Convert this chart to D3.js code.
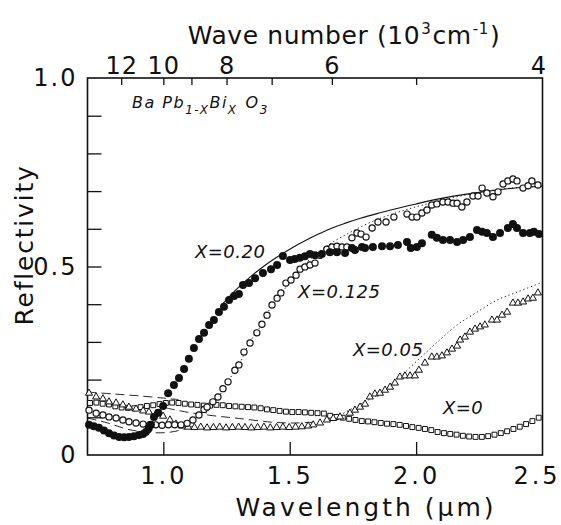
<!DOCTYPE html>
<html>
<head>
<meta charset="utf-8">
<script src="https://cdn.jsdelivr.net/npm/d3@7"></script>
<style>
  html, body { margin: 0; padding: 0; background: #fff; }
  svg { display: block; }
  .lbl { font-family: "DejaVu Sans", sans-serif; fill: #111; }
  .ital { font-family: "DejaVu Sans", sans-serif; font-style: oblique; fill: #111; }
</style>
</head>
<body>
<svg id="chart" width="561" height="525"></svg>
<script>
// Reflectivity of BaPb(1-x)Bi(x)O3 versus wavelength (µm), four compositions.

// X = 0.20 (filled circles): [wavelength µm, reflectivity]
const seriesX020 = [
  [0.706,0.080],[0.725,0.076],[0.745,0.072],[0.765,0.065],[0.785,0.058],[0.805,0.052],
  [0.825,0.048],[0.845,0.047],[0.864,0.048],[0.884,0.050],[0.904,0.053],[0.920,0.056],
  [0.931,0.061],[0.942,0.070],[0.951,0.080],[0.963,0.101],[0.980,0.112],[0.999,0.130],
  [1.019,0.164],[1.042,0.186],[1.062,0.204],[1.082,0.228],[1.101,0.255],[1.121,0.284],
  [1.141,0.308],[1.161,0.324],[1.181,0.345],[1.200,0.358],[1.220,0.379],[1.240,0.393],
  [1.260,0.411],[1.280,0.422],[1.299,0.427],[1.315,0.451],[1.339,0.456],[1.363,0.469],
  [1.394,0.483],[1.426,0.493],[1.450,0.504],[1.473,0.528],[1.501,0.517],[1.520,0.520],
  [1.540,0.523],[1.560,0.527],[1.580,0.533],[1.600,0.530],[1.627,0.533],[1.659,0.538],
  [1.687,0.538],[1.719,0.536],[1.746,0.549],[1.758,0.544],[1.786,0.552],[1.798,0.549],
  [1.829,0.552],[1.865,0.554],[1.897,0.554],[1.928,0.557],[1.964,0.565],[1.979,0.549],
  [2.003,0.552],[2.023,0.562],[2.062,0.584],[2.082,0.576],[2.106,0.570],[2.134,0.570],
  [2.162,0.565],[2.186,0.570],[2.213,0.578],[2.241,0.597],[2.261,0.592],[2.280,0.589],
  [2.304,0.578],[2.332,0.589],[2.363,0.602],[2.383,0.613],[2.399,0.602],[2.423,0.589],
  [2.450,0.589],[2.466,0.592],[2.486,0.586]
];

// X = 0.125 (open circles)
const seriesX0125 = [
  [0.706,0.119],[0.734,0.111],[0.761,0.106],[0.785,0.101],[0.813,0.098],[0.840,0.093],
  [0.864,0.088],[0.892,0.085],[0.920,0.082],[0.945,0.080],[0.970,0.080],[0.995,0.079],
  [1.020,0.080],[1.045,0.080],[1.070,0.080],[1.094,0.084],[1.117,0.093],[1.141,0.106],
  [1.161,0.121],[1.173,0.127],[1.196,0.141],[1.216,0.154],[1.236,0.176],[1.256,0.194],
  [1.283,0.225],[1.299,0.239],[1.319,0.273],[1.343,0.297],[1.370,0.324],[1.390,0.347],
  [1.410,0.371],[1.430,0.398],[1.450,0.416],[1.465,0.430],[1.485,0.456],[1.505,0.464],
  [1.525,0.477],[1.541,0.493],[1.560,0.499],[1.580,0.504],[1.600,0.509],[1.620,0.530],
  [1.647,0.546],[1.667,0.552],[1.687,0.554],[1.707,0.552],[1.726,0.552],[1.746,0.576],
  [1.766,0.589],[1.782,0.586],[1.802,0.578],[1.826,0.602],[1.849,0.618],[1.881,0.618],
  [1.912,0.631],[1.964,0.639],[1.984,0.631],[2.003,0.631],[2.023,0.642],[2.043,0.650],
  [2.062,0.663],[2.082,0.666],[2.106,0.671],[2.126,0.671],[2.146,0.668],[2.162,0.668],
  [2.181,0.658],[2.201,0.671],[2.225,0.687],[2.245,0.687],[2.261,0.708],[2.280,0.695],
  [2.304,0.685],[2.324,0.698],[2.344,0.719],[2.363,0.727],[2.383,0.732],[2.399,0.727],
  [2.423,0.708],[2.443,0.714],[2.458,0.727],[2.482,0.716]
];

// X = 0.05 (open triangles)
const seriesX005 = [
  [0.706,0.164],[0.734,0.154],[0.761,0.149],[0.785,0.141],[0.813,0.138],[0.840,0.133],
  [0.864,0.127],[0.892,0.122],[0.920,0.117],[0.943,0.114],[0.971,0.109],[0.999,0.103],
  [1.026,0.093],[1.050,0.082],[1.074,0.077],[1.098,0.074],[1.123,0.073],[1.148,0.074],
  [1.173,0.072],[1.198,0.073],[1.223,0.074],[1.248,0.072],[1.273,0.073],[1.298,0.074],
  [1.323,0.073],[1.348,0.072],[1.373,0.073],[1.398,0.074],[1.423,0.072],[1.448,0.073],
  [1.473,0.074],[1.498,0.073],[1.523,0.074],[1.548,0.075],[1.573,0.077],[1.593,0.080],
  [1.620,0.085],[1.647,0.093],[1.672,0.097],[1.699,0.101],[1.738,0.111],[1.758,0.119],
  [1.778,0.127],[1.798,0.135],[1.817,0.154],[1.837,0.162],[1.857,0.164],[1.877,0.172],
  [1.897,0.180],[1.916,0.191],[1.936,0.207],[1.956,0.210],[1.976,0.210],[1.995,0.210],
  [2.011,0.225],[2.035,0.244],[2.062,0.260],[2.082,0.260],[2.102,0.263],[2.122,0.271],
  [2.142,0.281],[2.162,0.289],[2.174,0.305],[2.193,0.313],[2.213,0.326],[2.233,0.334],
  [2.253,0.340],[2.272,0.345],[2.300,0.358],[2.320,0.358],[2.340,0.371],[2.360,0.379],
  [2.383,0.403],[2.403,0.403],[2.423,0.406],[2.443,0.414],[2.462,0.416],[2.482,0.430]
];

// X = 0 (open squares)
const seriesX0 = [
  [0.710,0.138],[0.735,0.139],[0.760,0.136],[0.785,0.134],[0.810,0.129],[0.835,0.126],
  [0.860,0.125],[0.885,0.124],[0.910,0.127],[0.935,0.130],[0.960,0.132],[0.985,0.135],
  [1.010,0.138],[1.035,0.139],[1.060,0.138],[1.085,0.136],[1.110,0.134],[1.135,0.133],
  [1.160,0.131],[1.185,0.131],[1.210,0.133],[1.235,0.132],[1.260,0.130],[1.285,0.129],
  [1.310,0.128],[1.335,0.127],[1.360,0.126],[1.385,0.124],[1.410,0.121],[1.435,0.119],
  [1.460,0.117],[1.485,0.115],[1.510,0.114],[1.535,0.114],[1.560,0.113],[1.585,0.112],
  [1.610,0.111],[1.635,0.110],[1.660,0.104],[1.685,0.101],[1.710,0.099],[1.735,0.096],
  [1.760,0.093],[1.785,0.090],[1.810,0.089],[1.835,0.087],[1.860,0.085],[1.885,0.083],
  [1.910,0.082],[1.935,0.080],[1.960,0.077],[1.985,0.074],[2.010,0.072],[2.035,0.069],
  [2.060,0.066],[2.085,0.061],[2.110,0.058],[2.135,0.056],[2.160,0.054],[2.185,0.051],
  [2.210,0.049],[2.235,0.048],[2.260,0.048],[2.285,0.050],[2.310,0.054],[2.335,0.058],
  [2.360,0.063],[2.385,0.069],[2.410,0.075],[2.435,0.082],[2.460,0.090],[2.485,0.099]
];

// Model curves
const fitX020 = [
  [1.237,0.403],[1.290,0.440],[1.343,0.472],[1.400,0.502],[1.450,0.525],[1.510,0.550],
  [1.568,0.571],[1.620,0.588],[1.670,0.603],[1.720,0.615],[1.780,0.628],[1.850,0.641],
  [1.920,0.653],[2.000,0.666],[2.080,0.678],[2.160,0.688],[2.240,0.696],[2.320,0.703],
  [2.400,0.709],[2.500,0.713]
];
const fitX0125 = [
  [1.170,0.110],[1.220,0.155],[1.260,0.200],[1.300,0.240],[1.340,0.297],[1.390,0.347],
  [1.430,0.398],[1.470,0.430],[1.500,0.462],[1.541,0.495],[1.600,0.530],[1.659,0.560],
  [1.738,0.590],[1.829,0.620],[1.924,0.643],[2.003,0.659],[2.094,0.674],[2.185,0.688],
  [2.320,0.704],[2.420,0.710],[2.500,0.713]
];
const fitX005 = [
  [1.699,0.106],[1.780,0.135],[1.857,0.164],[1.940,0.210],[2.015,0.257],[2.090,0.303],
  [2.162,0.345],[2.241,0.379],[2.320,0.411],[2.399,0.432],[2.490,0.456],[2.500,0.459]
];
const fitLowA = [[0.700,0.167],[0.800,0.162],[0.900,0.157],[1.000,0.151],[1.060,0.147]];
const fitLowB = [[1.010,0.125],[1.100,0.113],[1.200,0.104],[1.300,0.097],[1.430,0.087],[1.520,0.085],[1.620,0.088]];
const fitLowC = [[0.700,0.098],[0.780,0.085],[0.860,0.068],[0.940,0.060],[1.020,0.060],[1.090,0.070],[1.130,0.080]];

// Axis ticks
const yTicks = [0,0.1,0.2,0.3,0.4,0.5,0.6,0.7,0.8,0.9,1.0];
const yTickLabels = {0: "0", 0.5: "0.5", 1: "1.0"};
const xTicks = [1.0, 1.5, 2.0, 2.5];
const waveNumbers = [12, 10, 9, 8, 7, 6, 5, 4];
const waveNumberLabels = [12, 10, 8, 6, 4];

// Curve labels (anchored at the start of the text baseline)
const curveLabels = [
  {text: "X=0.20", x: 1.125, y: 0.522},
  {text: "X=0.125", x: 1.533, y: 0.416},
  {text: "X=0.05", x: 1.750, y: 0.263},
  {text: "X=0", x: 2.106, y: 0.109}
];

const svg = d3.select("#chart");
const ink = "#111";

const x = d3.scaleLinear().domain([0.7, 2.5]).range([87.5, 542.5]);
const y = d3.scaleLinear().domain([0, 1]).range([455, 78]);

const line = d3.line().x(d => x(d[0])).y(d => y(d[1])).curve(d3.curveCatmullRom);

// Frame
svg.append("rect")
  .attr("x", x(0.7)).attr("y", y(1))
  .attr("width", x(2.5) - x(0.7)).attr("height", y(0) - y(1))
  .attr("fill", "none").attr("stroke", ink).attr("stroke-width", 1.6);

function styleAxis(g) {
  g.select(".domain").remove();
  g.selectAll(".tick line").attr("stroke", ink).attr("stroke-width", 1.3);
  g.selectAll(".tick text").attr("class", "lbl").attr("fill", ink);
}

// Left axis (inward ticks)
svg.append("g")
  .attr("transform", `translate(${x(0.7)},0)`)
  .call(d3.axisLeft(y).tickValues(yTicks).tickSizeInner(-14).tickSizeOuter(0).tickPadding(10)
    .tickFormat(d => yTickLabels[d] !== undefined ? yTickLabels[d] : ""))
  .call(styleAxis)
  .call(g => g.selectAll(".tick text").attr("font-size", 24).attr("letter-spacing", 2))
  .call(g => g.selectAll(".tick line").filter(d => d === 0 || d === 1).remove());

// Bottom axis
svg.append("g")
  .attr("transform", `translate(0,${y(0)})`)
  .call(d3.axisBottom(x).tickValues(xTicks).tickSizeInner(-13).tickSizeOuter(0).tickPadding(12)
    .tickFormat(d3.format(".1f")))
  .call(styleAxis)
  .call(g => g.selectAll(".tick text").attr("font-size", 24).attr("letter-spacing", 3)
    .attr("dx", d => d === 2.5 ? -6 : 0))
  .call(g => g.selectAll(".tick line").filter(d => d === 2.5).remove());

// Top axis: wave number in 10^3 cm^-1, placed at wavelength 10/k µm
svg.append("g")
  .attr("transform", `translate(0,${y(1)})`)
  .call(d3.axisTop(x).tickValues(waveNumbers.map(k => 10 / k)).tickSizeInner(-7).tickSizeOuter(0).tickPadding(4)
    .tickFormat(v => { const k = Math.round(10 / v); return waveNumberLabels.includes(k) ? String(k) : ""; }))
  .call(styleAxis)
  .call(g => g.selectAll(".tick text").attr("font-size", 24).attr("letter-spacing", 1)
    .attr("dx", d => Math.round(10 / d) === 4 ? -4 : 0))
  .call(g => g.selectAll(".tick line").filter(d => Math.round(10 / d) === 4).remove());

// Axis titles
svg.append("text").attr("class", "lbl")
  .attr("x", 366).attr("y", 516).attr("text-anchor", "middle")
  .attr("font-size", 25).attr("letter-spacing", 3)
  .text("Wavelength  (µm)");

svg.append("text").attr("class", "lbl")
  .attr("transform", "translate(33,245) rotate(-90)")
  .attr("text-anchor", "middle").attr("font-size", 25).attr("letter-spacing", 1.8)
  .text("Reflectivity");

const topTitle = svg.append("text").attr("class", "lbl")
  .attr("x", 344).attr("y", 44).attr("text-anchor", "middle").attr("font-size", 25)
  .attr("letter-spacing", 0.6);
topTitle.append("tspan").text("Wave number (10");
topTitle.append("tspan").attr("dy", -10).attr("dx", 1).attr("font-size", 15).text("3");
topTitle.append("tspan").attr("dy", 10).attr("dx", 1).text("cm");
topTitle.append("tspan").attr("dy", -10).attr("dx", 1).attr("font-size", 15).text("-1");
topTitle.append("tspan").attr("dy", 10).attr("dx", 1).text(")");

// Formula
const formula = svg.append("text").attr("class", "ital")
  .attr("x", 132).attr("y", 108).attr("font-size", 16).attr("letter-spacing", 1.5);
formula.append("tspan").text("Ba Pb");
formula.append("tspan").attr("dy", 6).attr("font-size", 12).text("1-X");
formula.append("tspan").attr("dy", -6).text("Bi");
formula.append("tspan").attr("dy", 6).attr("font-size", 12).text("X");
formula.append("tspan").attr("dy", -6).attr("dx", 8).text("O");
formula.append("tspan").attr("dy", 6).attr("font-size", 12).text("3");

// Curves
const curves = svg.append("g").attr("fill", "none").attr("stroke", ink);
curves.append("path").attr("d", line(fitX020)).attr("stroke-width", 1.1);
curves.append("path").attr("d", line(fitX0125)).attr("stroke-width", 1).attr("stroke-dasharray", "1.2 2.8");
curves.append("path").attr("d", line(fitX005)).attr("stroke-width", 1).attr("stroke-dasharray", "1.2 2.8");
curves.append("path").attr("d", line(fitLowA)).attr("stroke-width", 0.9).attr("stroke-dasharray", "9 5");
curves.append("path").attr("d", line(fitLowB)).attr("stroke-width", 0.9).attr("stroke-dasharray", "9 5");
curves.append("path").attr("d", line(fitLowC)).attr("stroke-width", 0.9).attr("stroke-dasharray", "9 5");

// Markers
const sq = d3.symbol().type(d3.symbolSquare).size(24);
svg.append("g").selectAll("path").data(seriesX0).join("path")
  .attr("d", sq).attr("transform", d => `translate(${x(d[0])},${y(d[1])})`)
  .attr("fill", "#fff").attr("stroke", ink).attr("stroke-width", 1);

const tri = d3.symbol().type(d3.symbolTriangle).size(22);
svg.append("g").selectAll("path").data(seriesX005).join("path")
  .attr("d", tri).attr("transform", d => `translate(${x(d[0])},${y(d[1])})`)
  .attr("fill", "#fff").attr("stroke", ink).attr("stroke-width", 1);

svg.append("g").selectAll("circle").data(seriesX0125).join("circle")
  .attr("cx", d => x(d[0])).attr("cy", d => y(d[1])).attr("r", 3.1)
  .attr("fill", "#fff").attr("stroke", ink).attr("stroke-width", 1.2);

svg.append("g").selectAll("circle").data(seriesX020).join("circle")
  .attr("cx", d => x(d[0])).attr("cy", d => y(d[1])).attr("r", 4)
  .attr("fill", ink);

// Curve labels
svg.append("g").selectAll("text").data(curveLabels).join("text")
  .attr("class", "ital").attr("font-size", 18).attr("letter-spacing", 0.5)
  .attr("x", d => x(d.x)).attr("y", d => y(d.y))
  .text(d => d.text);
</script>
</body>
</html>
